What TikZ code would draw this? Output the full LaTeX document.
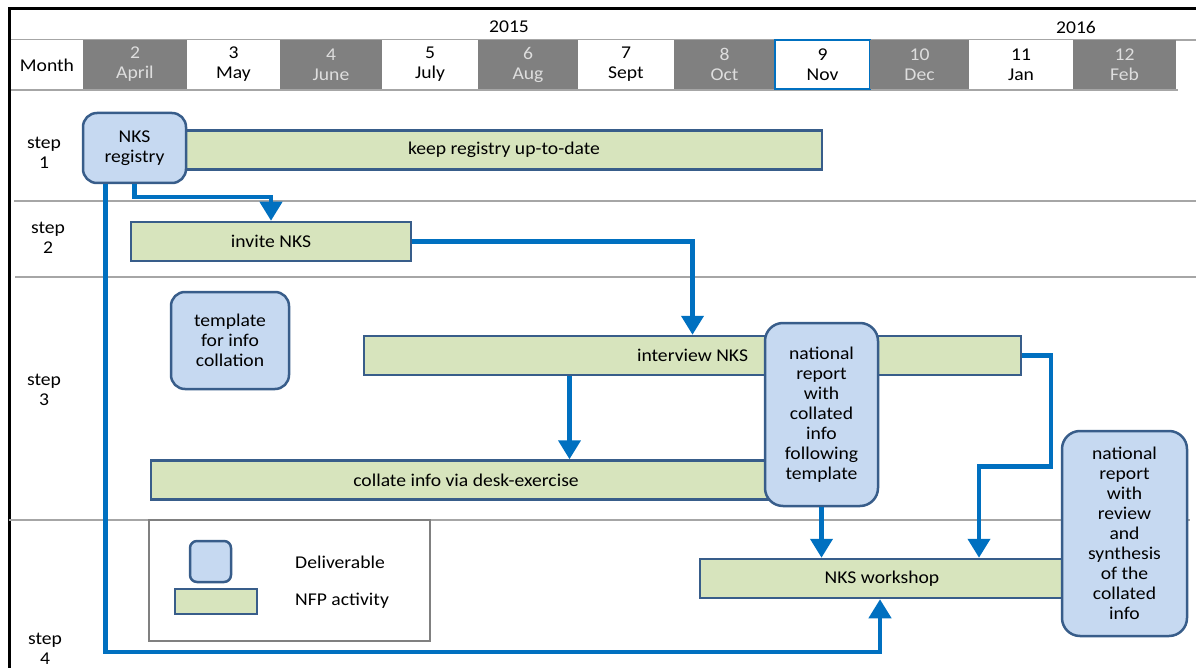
\documentclass[tikz,border=0pt]{standalone}
\usepackage{xcolor}
\usepackage{fontspec}
\setmainfont{Carlito}[FakeStretch=1.09]
\usepackage{tikz}
\usetikzlibrary{arrows.meta, positioning}
\definecolor{delfill}{RGB}{198, 217, 241}
\definecolor{boxline}{RGB}{56, 93, 138}
\definecolor{actfill}{RGB}{215, 228, 189}
\definecolor{flowblue}{RGB}{0, 112, 192}
\definecolor{cellgrey}{RGB}{128, 128, 128}
\definecolor{celltext}{RGB}{222, 222, 222}
\definecolor{rulegrey}{RGB}{166, 166, 166}

\begin{document}
\begin{tikzpicture}[
  x=1pt, y=-1pt,
  font=\fontsize{18}{20}\selectfont,
  darkcell/.style  = {rectangle, fill=cellgrey, text=celltext, inner sep=0pt,
                      minimum height=49pt, align=center},
  lightcell/.style = {rectangle, fill=white, inner sep=0pt,
                      minimum height=49pt, align=center},
  selcell/.style   = {lightcell, draw=flowblue, line width=1.5pt},
  deliv/.style     = {rectangle, rounded corners=14pt, draw=boxline, fill=delfill,
                      line width=2.5pt, inner sep=0pt, align=center},
  activity/.style  = {rectangle, draw=boxline, fill=actfill, line width=2.5pt,
                      inner sep=0pt, minimum height=39pt, align=center},
  steplabel/.style = {align=center, inner sep=0pt},
  sep/.style       = {draw=rulegrey, line width=1.5pt},
  flow/.style      = {draw=flowblue, line width=4.2pt,
                      -{Triangle[width=22pt, length=19pt]}},
]
  \useasboundingbox (0,0) rectangle (1196,668);

  % Header
  \draw[sep] (9,40) -- (1196,40);
  \draw[sep] (9,90) -- (1178,90);
  \node (y2015) at (509,27) {2015};
  \node (y2016) at (1076,27) {2016};
  \node[lightcell, minimum width=74pt] (month) at (47,65) {Month};
  \foreach \xl/\xr/\num/\mon/\sty in {83/187/2/April/darkcell, 187/280/3/May/lightcell,
      280/382/4/June/darkcell, 382/478/5/July/lightcell, 478/578/6/Aug/darkcell,
      578/674/7/Sept/lightcell, 674/775/8/Oct/darkcell, 775/870/9/Nov/selcell,
      870/969/10/Dec/darkcell, 969/1073/11/Jan/lightcell, 1073/1176/12/Feb/darkcell}
    \node[\sty, minimum width={(\xr-\xl)*1pt}] (m\num) at ({(\xl+\xr)/2},64.5) {\num\\\mon};

  % Frame
  \draw[line width=3pt] (9,668) -- (9,9) -- (1196,9);

  % Rows
  \draw[sep] (14,201) -- (1196,201);
  \draw[sep] (15,277) -- (1196,277);
  \draw[sep] (9,520) -- (1190,520);
  \node[steplabel] (s1) at (44,153) {step\\1};
  \node[steplabel] (s2) at (48,238) {step\\2};
  \node[steplabel] (s3) at (44,390) {step\\3};
  \node[steplabel] (s4) at (45,649) {step\\4};

  % Activities
  \node[activity, minimum width=636pt] (keep) at (504,150) {keep registry up-to-date};
  \node[activity, minimum width=280pt] (invite) at (271,241.5) {invite NKS};
  \node[activity, minimum width=657pt] (interview) at (692.5,355.5) {interview NKS};
  \node[activity, minimum width=630pt] (collate) at (466,480) {collate info via desk-exercise};
  \node[activity, minimum width=364pt] (workshop) at (882,578.5) {NKS workshop};

  % Deliverables
  \node[deliv, minimum width=103pt, minimum height=70pt] (reg) at (134.5,148) {NKS\\registry};
  \node[deliv, minimum width=118pt, minimum height=97pt] (tmpl) at (230,340.5)
    {template\\for info\\collation};
  \node[deliv, rounded corners=18pt, minimum width=113pt, minimum height=183pt] (natrep)
    at (821.5,414.5) {national\\report\\with\\collated\\info\\following\\template};
  \node[deliv, rounded corners=18pt, minimum width=125pt, minimum height=205pt] (review)
    at (1124.5,533.5) {national\\report\\with\\review\\and\\synthesis\\of the\\collated\\info};

  % Legend
  \node[rectangle, draw=cellgrey, line width=2pt, minimum width=281pt,
        minimum height=121pt] (legend) at (289.5,580.5) {};
  \node[deliv, rounded corners=7pt, minimum width=41pt, minimum height=41pt] (legdel)
    at (210.5,561.5) {};
  \node[activity, minimum width=82pt, minimum height=25pt] (legact) at (216,601.5) {};
  \node[anchor=west, inner sep=0pt] (legdeltxt) at (295,562) {Deliverable};
  \node[anchor=west, inner sep=0pt] (legacttxt) at (295,601) {NFP activity};

  % Arrows
  \draw[flow] (reg.south) -- ++(0,13) -| (invite.north);
  \draw[flow] (invite.east) -| (interview.north);
  \draw[flow] ([xshift=-123pt]interview.south) -- ([xshift=-123pt]interview.south |- collate.north);
  \draw[flow] (natrep.south) -- (natrep.south |- workshop.north);
  \draw[flow] (interview.east) -- ++(29,0) -- ++(0,111) -| ([xshift=97pt]workshop.north);
  \draw[flow] ([xshift=-29pt]reg.south) -- ++(0,468) -| ([xshift=-2pt]workshop.south);
\end{tikzpicture}
\end{document}
